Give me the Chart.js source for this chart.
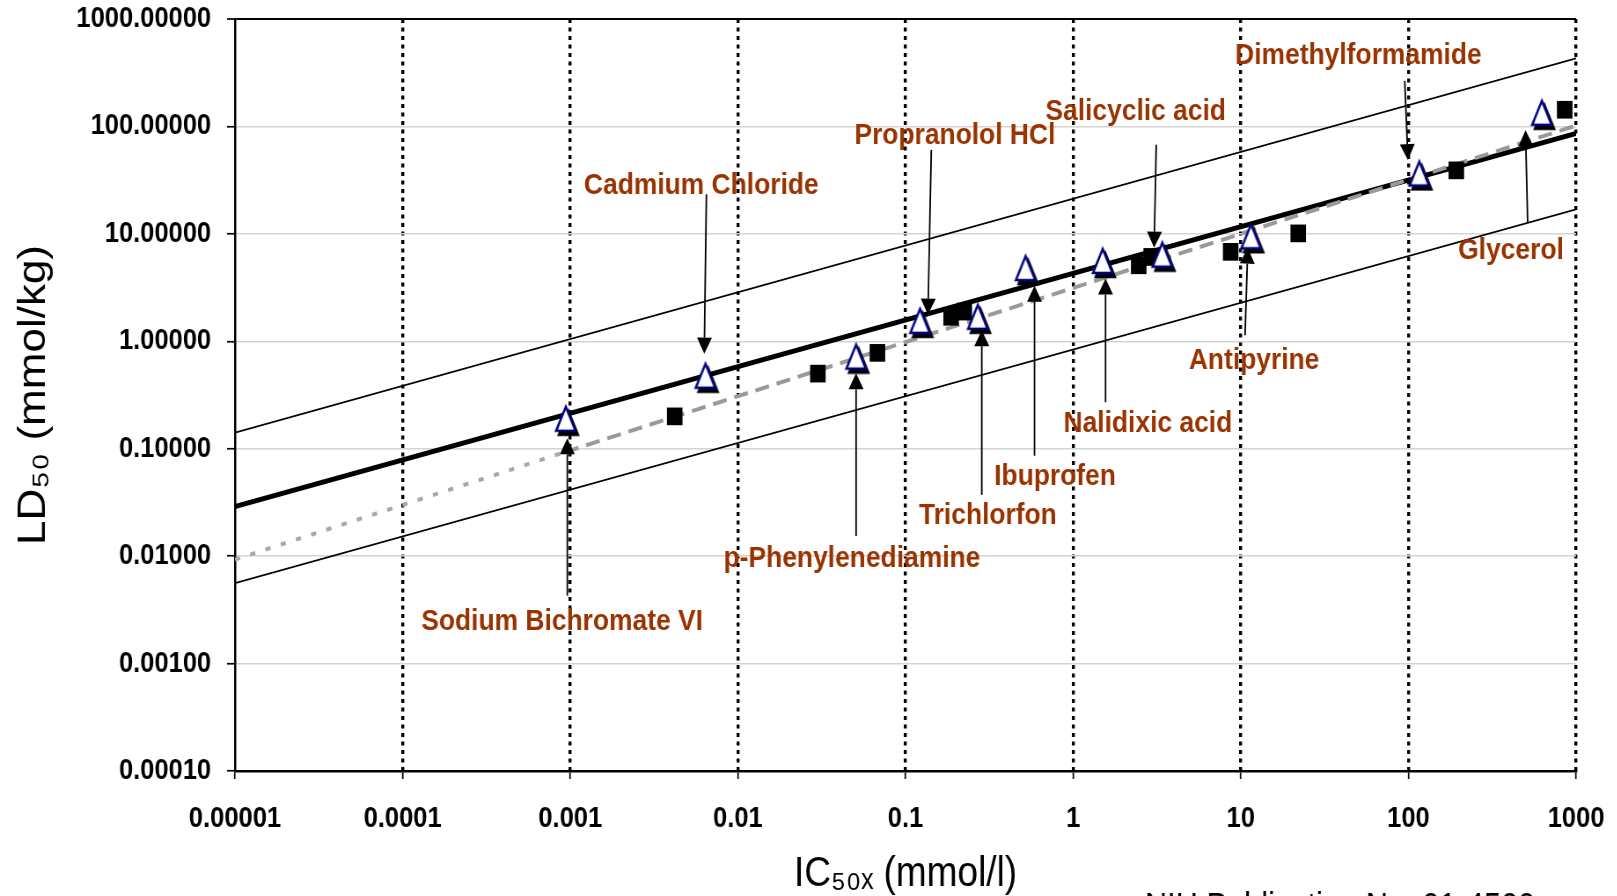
<!DOCTYPE html>
<html lang="en">
<head>
<meta charset="UTF-8" />
<title>LD50 vs IC50x</title>
<script src="https://cdn.jsdelivr.net/npm/chart.js"></script>
<style>
html, body { margin: 0; padding: 0; overflow: hidden; background: #fff; }
/* the original figure is squeezed horizontally, so draw wider and squeeze */
#wrap { width: 1838px; height: 896px; transform: scaleX(0.88); transform-origin: 0 0; }
</style>
</head>
<body>
<div id="wrap"><canvas id="myChart" width="1838" height="896"></canvas></div>
<script>
const xTickValues = [0.00001, 0.0001, 0.001, 0.01, 0.1, 1, 10, 100, 1000];
const xTickLabels = ["0.00001", "0.0001", "0.001", "0.01", "0.1", "1", "10", "100", "1000"];
const yTickValues = [0.0001, 0.001, 0.01, 0.1, 1, 10, 100, 1000];
const yTickLabels = ["0.00010", "0.00100", "0.01000", "0.10000", "1.00000", "10.00000", "100.00000", "1000.00000"];

// reference chemicals (open triangles)
const compounds = ["Sodium Bichromate VI", "Cadmium Chloride", "p-Phenylenediamine", "Propranolol HCl",
  "Trichlorfon", "Ibuprofen", "Nalidixic acid", "Salicyclic acid", "Antipyrine", "Dimethylformamide", "Glycerol"];
const triIC50 = [0.00094, 0.0064, 0.0507, 0.122, 0.27, 0.52, 1.5, 3.4, 11.5, 116, 625];
const triLD50 = [0.19, 0.478, 0.72, 1.55, 1.69, 4.8, 5.6, 6.4, 9.5, 36.5, 134];

// black squares
const sqIC50 = [0.0042, 0.030, 0.068, 0.187, 0.224, 2.46, 2.92, 8.7, 22, 193, 855];
const sqLD50 = [0.20, 0.50, 0.78, 1.69, 1.89, 5.1, 6.1, 6.8, 10.1, 39, 143];

// regression line and +/- limits (end points)
const lineX = [0.00001, 1000];
const rcLine = [0.029, 86];
const rcUpper = [0.141, 430];
const rcLower = [0.0056, 16.9];
// grey fit line: dotted part, dashed part
const fitDottedX = [0.00001, 0.00093];
const fitDotted = [0.0093, 0.093];
const fitDashedX = [0.00093, 1000];
const fitDashed = [0.093, 102];

// callouts (data units)
const labelX = [0.000894, 0.00605, 0.0479, 0.197, 0.31, 0.78, 2.79, 2.36, 12.0, 50.3, 409];
const labelY = [0.00246, 28.0, 0.00946, 82.6, 0.0239, 0.0553, 0.171, 137, 0.656, 452, 6.96];
const arrowFromX = [0.00096, 0.00649, 0.0507, 0.1425, 0.285, 0.588, 1.56, 3.13, 10.6, 95, 514];
const arrowFromY = [0.00428, 23.4, 0.0154, 60.5, 0.0372, 0.0861, 0.271, 67.6, 1.14, 266, 12.9];
const arrowToX = [0.00096, 0.0063, 0.0507, 0.136, 0.285, 0.588, 1.56, 3.04, 11.0, 99.3, 499];
const arrowToY = [0.125, 0.766, 0.504, 1.77, 1.27, 3.29, 3.84, 7.44, 7.44, 48.6, 92];

const FONT = "'Liberation Sans', Arial, sans-serif";

function pts(xs, ys) {
  return xs.map((v, i) => ({ x: v, y: ys[i] }));
}

function makeTriangle() {
  const c = document.createElement("canvas");
  c.width = 36;
  c.height = 36;
  const g = c.getContext("2d");
  const p = [[18, 6], [29, 30], [7, 30]];
  function path(dx, dy) {
    g.beginPath();
    g.moveTo(p[0][0] + dx, p[0][1] + dy);
    g.lineTo(p[1][0] + dx, p[1][1] + dy);
    g.lineTo(p[2][0] + dx, p[2][1] + dy);
    g.closePath();
  }
  path(3, 4);
  g.fillStyle = "#000";
  g.fill();
  g.lineWidth = 2.5;
  g.strokeStyle = "#000";
  g.stroke();
  path(0, 0);
  g.fillStyle = "#fff";
  g.fill();
  g.lineWidth = 2.6;
  g.strokeStyle = "#000080";
  g.stroke();
  return c;
}

const calloutPlugin = {
  id: "callouts",
  afterDatasetsDraw(chart) {
    const { ctx, scales: { x, y } } = chart;
    ctx.save();
    compounds.forEach((name, i) => {
      const tx = x.getPixelForValue(arrowFromX[i]);
      const ty = y.getPixelForValue(arrowFromY[i]);
      const hx = x.getPixelForValue(arrowToX[i]);
      const hy = y.getPixelForValue(arrowToY[i]);
      const a = Math.atan2(hy - ty, hx - tx);
      const len = 16, half = 8.5;
      const bx = hx - Math.cos(a) * len;
      const by = hy - Math.sin(a) * len;
      ctx.strokeStyle = "#000";
      ctx.fillStyle = "#000";
      ctx.lineWidth = 1.8;
      ctx.beginPath();
      ctx.moveTo(tx, ty);
      ctx.lineTo(bx, by);
      ctx.stroke();
      ctx.beginPath();
      ctx.moveTo(hx, hy);
      ctx.lineTo(bx + Math.sin(a) * half, by - Math.cos(a) * half);
      ctx.lineTo(bx - Math.sin(a) * half, by + Math.cos(a) * half);
      ctx.closePath();
      ctx.fill();

      ctx.fillStyle = "#993300";
      ctx.font = "bold 30px " + FONT;
      ctx.textAlign = "center";
      ctx.textBaseline = "middle";
      ctx.fillText(name, x.getPixelForValue(labelX[i]), y.getPixelForValue(labelY[i]));
    });
    ctx.restore();
  }
};

const footerPlugin = {
  id: "footer",
  afterDraw(chart) {
    const ctx = chart.ctx;
    ctx.save();
    ctx.fillStyle = "#000";
    ctx.font = "35px " + FONT;
    ctx.textAlign = "left";
    ctx.textBaseline = "alphabetic";
    ctx.fillText("NIH Publication No. 01-4500", 1301, 917);
    ctx.restore();
  }
};

const lineStyle = { showLine: true, pointRadius: 0, fill: false, tension: 0 };

const config = {
  type: "scatter",
  data: {
    datasets: [
      { label: "Reference chemicals", data: pts(triIC50, triLD50), pointStyle: makeTriangle(), pointRadius: 18, order: 1 },
      { label: "Squares", data: pts(sqIC50, sqLD50), pointStyle: "rect", pointRadius: 12.5,
        backgroundColor: "#000", borderColor: "#000", borderWidth: 0, order: 2 },
      { label: "Fit", data: pts(fitDashedX, fitDashed), borderColor: "#9a9a9a", borderWidth: 4, borderDash: [16, 9], order: 3, ...lineStyle },
      { label: "Fit extrapolated", data: pts(fitDottedX, fitDotted), borderColor: "#a8a8a8", borderWidth: 4, borderDash: [6, 12], order: 3, ...lineStyle },
      { label: "RC regression", data: pts(lineX, rcLine), borderColor: "#000", borderWidth: 5, order: 4, ...lineStyle },
      { label: "Upper", data: pts(lineX, rcUpper), borderColor: "#000", borderWidth: 1.6, order: 5, ...lineStyle },
      { label: "Lower", data: pts(lineX, rcLower), borderColor: "#000", borderWidth: 1.6, order: 5, ...lineStyle }
    ]
  },
  options: {
    responsive: false,
    animation: false,
    events: [],
    layout: { padding: { left: 0, right: 47, top: 18.5, bottom: 0 } },
    plugins: {
      legend: { display: false },
      tooltip: { enabled: false }
    },
    scales: {
      x: {
        type: "logarithmic",
        position: "bottom",
        min: 0.00001,
        max: 1000,
        afterBuildTicks: (s) => { s.ticks = xTickValues.map((v) => ({ value: v })); },
        afterFit: (s) => { s.height = 125; s.paddingLeft = 0; s.paddingRight = 0; },
        ticks: {
          autoSkip: false, maxRotation: 0, minRotation: 0, padding: 23, color: "#000",
          font: { family: FONT, size: 29, weight: "bold" },
          callback: (v, i) => xTickLabels[i]
        },
        grid: {
          color: (c) => (c.tick && c.tick.value === xTickValues[0] ? "rgba(0,0,0,0)" : "#000"),
          lineWidth: 3.4, tickColor: "#000", tickLength: 8, tickWidth: 1.7
        },
        border: { display: true, color: "#000", width: 2.5, dash: [4, 4.5] },
        title: {
          display: true, text: "IC₅₀ₓ (mmol/l)", color: "#000",
          font: { family: FONT, size: 42, lineHeight: 1 }, padding: { top: 0, bottom: 1 }
        }
      },
      y: {
        type: "logarithmic",
        min: 0.0001,
        max: 1000,
        afterBuildTicks: (s) => { s.ticks = yTickValues.map((v) => ({ value: v })); },
        afterFit: (s) => { s.width = 267; s.paddingTop = 0; s.paddingBottom = 0; },
        ticks: {
          autoSkip: false, padding: 18, color: "#000",
          font: { family: FONT, size: 29, weight: "bold" },
          callback: (v, i) => yTickLabels[i]
        },
        grid: {
          color: (c) => (c.tick && c.tick.value === 1000 ? "#000" : "#d4d4d4"),
          lineWidth: (c) => (c.tick && c.tick.value === 1000 ? 2 : 1.5),
          tickColor: "#000", tickLength: 9, tickWidth: 1.7
        },
        border: { display: true, color: "#000", width: 2.5 },
        title: {
          display: true, text: "LD₅₀ (mmol/kg)", color: "#000",
          font: { family: FONT, size: 44, lineHeight: 1.2 }, padding: { top: 12, bottom: 0 }
        }
      }
    }
  },
  plugins: [calloutPlugin, footerPlugin]
};

new Chart(document.getElementById("myChart"), config);
</script>
</body>
</html>
